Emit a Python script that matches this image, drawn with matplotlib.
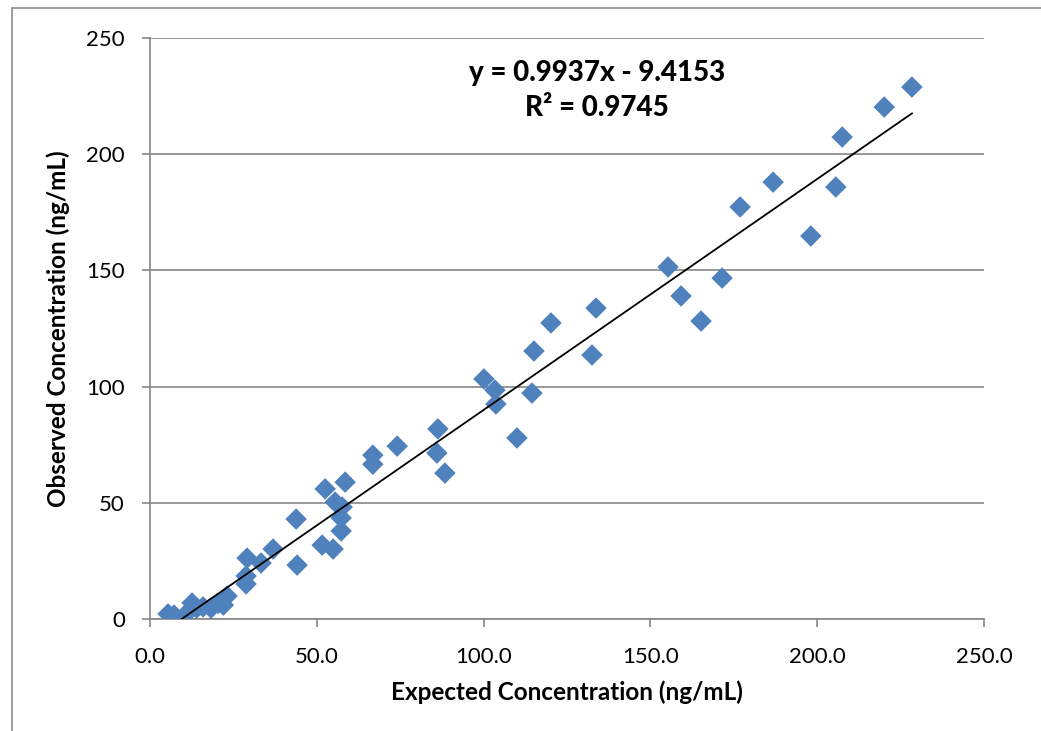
#!/usr/bin/env python3

import matplotlib
matplotlib.use("Agg")
import matplotlib.pyplot as plt
import numpy as np
from matplotlib.patches import Rectangle

# expected vs observed concentrations (ng/mL)
expected = [5.4, 7.2, 11.4, 12.6, 14.0, 15.9, 18.3, 20.4, 22.0, 23.1,
            28.8, 28.8, 29.1, 33.3, 36.9, 43.8, 44.1, 51.6, 52.5, 54.9,
            55.5, 57.6, 57.3, 57.3, 58.5, 66.8, 66.8, 74.1, 86.3, 86.0,
            88.4, 100.1, 103.4, 103.7, 110.0, 114.5, 115.1, 120.2, 132.5, 133.7,
            155.3, 159.2, 165.2, 171.5, 176.9, 186.8, 198.1, 205.6, 207.5, 220.1,
            228.4]
observed = [2.2, 1.7, 3.0, 6.9, 4.7, 5.2, 4.7, 6.7, 6.0, 9.9,
            18.5, 15.1, 26.2, 24.1, 30.1, 43.0, 23.2, 31.8, 56.0, 30.1,
            50.3, 48.2, 37.9, 43.5, 58.9, 66.6, 70.5, 74.4, 81.8, 71.4,
            62.8, 103.3, 98.5, 92.5, 77.9, 97.2, 115.3, 127.4, 113.6, 133.8,
            151.5, 139.0, 128.2, 146.7, 177.3, 188.0, 164.8, 185.9, 207.4, 220.3,
            228.9]

slope = 0.9937
intercept = -9.4153
r2 = 0.9745

def main():
    plt.rcParams['font.family'] = ['Lato', 'DejaVu Sans']
    fig = plt.figure(figsize=(10.41, 7.31), dpi=100)
    ax = fig.add_axes([0.1441, 0.1532, 0.8011, 0.7948])

    grey = "#868686"

    # outer chart frame (only left and top edges visible)
    fig.patches.append(Rectangle((12 / 1041, -0.1), 1.2, 1 - 8 / 731 + 0.1,
                                 transform=fig.transFigure, fill=False,
                                 edgecolor="#8c8c8c", linewidth=1.2))

    ax.scatter(expected, observed, marker="D", s=120, color="#4F81BD",
               edgecolors="none", zorder=3)

    xfit = np.array([min(expected), max(expected)])
    ax.plot(xfit, slope * xfit + intercept, color="black", linewidth=1.3, zorder=4)

    ax.set_xlim(0, 250)
    ax.set_ylim(0, 250)
    ax.set_xticks(np.arange(0, 251, 50))
    ax.set_yticks(np.arange(0, 251, 50))
    ax.set_xticklabels([f"{v:.1f}" for v in np.arange(0, 251, 50)])
    ax.yaxis.grid(True, color=grey, linewidth=1.2)
    ax.set_axisbelow(True)

    for s in ["top", "right"]:
        ax.spines[s].set_visible(False)
    for s in ["left", "bottom"]:
        ax.spines[s].set_color(grey)
        ax.spines[s].set_linewidth(1.2)
    ax.tick_params(direction="out", length=6, width=1.2, color=grey,
                   labelsize=16)
    ax.tick_params(axis="x", pad=14)
    ax.tick_params(axis="y", pad=12)

    ax.set_xlabel("Expected Concentration (ng/mL)", fontsize=17.5,
                  fontweight="bold", labelpad=10)
    ax.set_ylabel("Observed Concentration (ng/mL)", fontsize=17.5,
                  fontweight="bold", labelpad=12)

    ax.text(0.536, 0.94, f"y = {slope}x - {abs(intercept)}", transform=ax.transAxes,
            ha="center", va="center", fontsize=20, fontweight="black")
    ax.text(0.536, 0.8795, f"R² = {r2}", transform=ax.transAxes,
            ha="center", va="center", fontsize=20, fontweight="black")

    fig.savefig("out.png", dpi=100)


if __name__ == "__main__":
    main()
